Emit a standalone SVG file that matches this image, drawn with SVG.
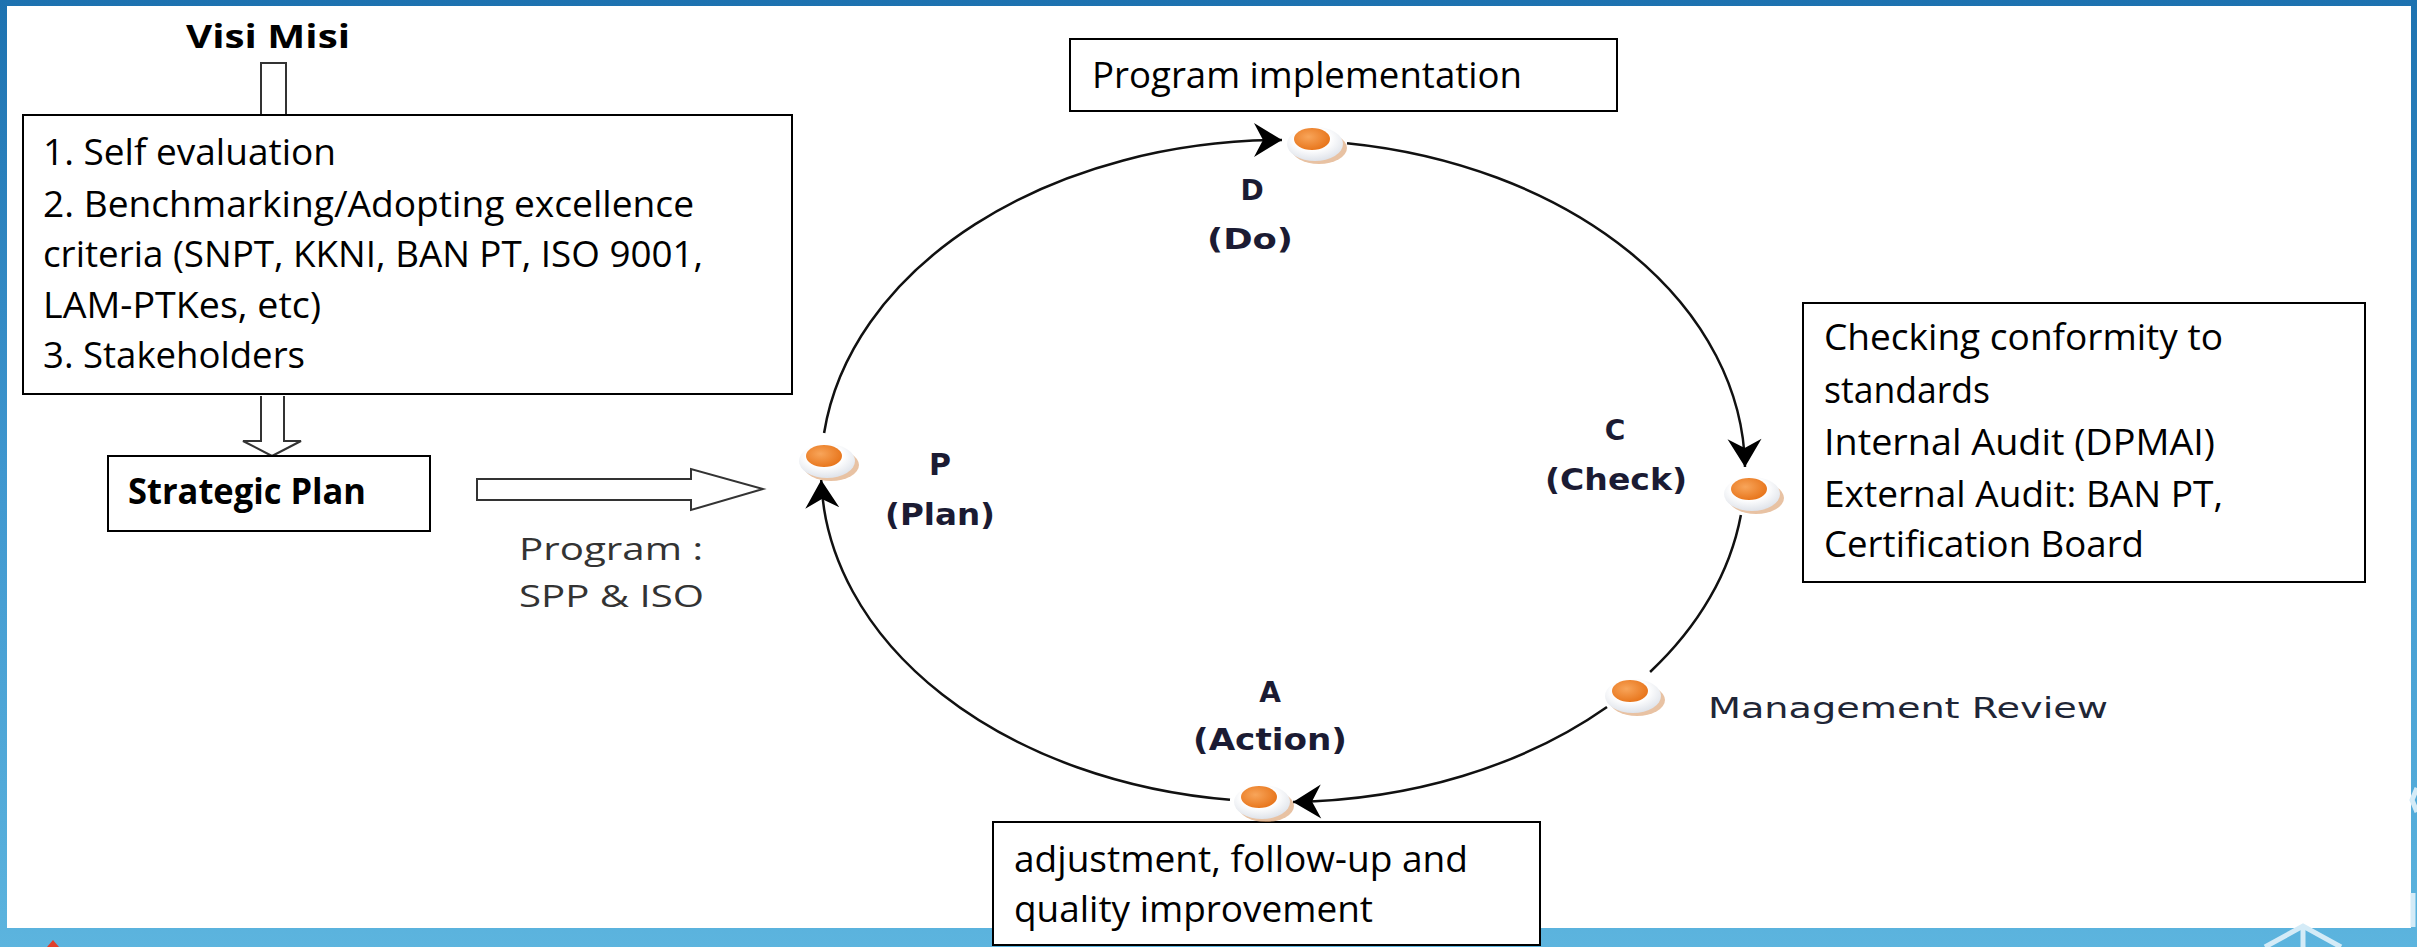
<svg xmlns="http://www.w3.org/2000/svg" width="2417" height="947" viewBox="0 0 2417 947">
<defs>
<style>
.box{fill:#fff;stroke:#000;stroke-width:2}
.t{font-family:'Open Sans','Liberation Sans',sans-serif;font-size:36px;fill:#000}
.tb{font-family:'Open Sans','Liberation Sans',sans-serif;font-size:36px;font-weight:bold;fill:#000}
.prog{font-family:'Open Sans','Liberation Sans',sans-serif;font-size:31px;fill:#333}
.lbl{font-family:'DejaVu Sans','Liberation Sans',sans-serif;font-weight:bold;font-size:30px;fill:#1b1b33;text-anchor:middle}
.mr{font-family:'DejaVu Sans','Liberation Sans',sans-serif;font-size:28px;fill:#1f2636}
.arc{fill:none;stroke:#111;stroke-width:2.5}
.hollow{fill:#fff;stroke:#333;stroke-width:2}
.flake{stroke:#d4ebf7;stroke-width:5;fill:none;stroke-linecap:butt}
</style>
<linearGradient id="bg" x1="0" y1="0" x2="0" y2="1">
<stop offset="0" stop-color="#1d72b0"/>
<stop offset="0.5" stop-color="#3f97cf"/>
<stop offset="1" stop-color="#5cb4de"/>
</linearGradient>
<radialGradient id="orng" cx="0.4" cy="0.4" r="0.6">
<stop offset="0" stop-color="#f8a55a"/>
<stop offset="1" stop-color="#e8771e"/>
</radialGradient>
<radialGradient id="btn" cx="0.45" cy="0.35" r="0.65">
<stop offset="0.5" stop-color="#ffffff"/>
<stop offset="1" stop-color="#dfe3ea"/>
</radialGradient>
<marker id="ah" markerUnits="userSpaceOnUse" markerWidth="40" markerHeight="40" viewBox="-30 -20 32 40" refX="0" refY="0" orient="auto">
<path d="M0,0 L-28,-17 L-19,0 L-28,17 Z" fill="#000"/>
</marker>
<g id="dot">
<ellipse cx="4" cy="4" rx="28" ry="16" fill="#d99a66" opacity="0.6"/>
<ellipse cx="0" cy="0" rx="28" ry="17" fill="url(#btn)"/>
<ellipse cx="-3" cy="-5" rx="18" ry="11" fill="url(#orng)"/>
</g>
</defs>

<rect x="0" y="0" width="2417" height="947" fill="url(#bg)"/>
<rect x="7" y="6" width="2404" height="922" fill="#fff"/>

<g id="decor">
<polyline class="flake" points="2265,947 2303,926 2341,947"/>
<line class="flake" x1="2303" y1="926" x2="2303" y2="947"/>
<polyline class="flake" points="2417,788 2412,800 2417,812"/>
<line class="flake" x1="2413" y1="893" x2="2413" y2="927"/>
<polygon points="47,947 53,940 59,947" fill="#e0402c"/>
</g>

<g id="connectors">
<path class="hollow" d="M261,118 V63 H286 V118"/>
<path class="hollow" d="M261,396 V441 H243 L272,456 L301,441 H284 V396"/>
<path class="hollow" d="M477,479 H691 V469 L763,489 L691,510 V500 H477 Z"/>
<path class="arc" d="M824.1,433 A462,331 0 0 1 1282,140" marker-end="url(#ah)"/>
<path class="arc" d="M1347,143.2 A462,331 0 0 1 1745,467" marker-end="url(#ah)"/>
<path class="arc" d="M1740.9,515 A462,331 0 0 1 1650.1,672"/>
<path class="arc" d="M1607,707 A462,331 0 0 1 1293,801.9" marker-end="url(#ah)"/>
<path class="arc" d="M1230,799.8 A462,331 0 0 1 821.2,480" marker-end="url(#ah)"/>
</g>

<g id="visi-misi">
<text class="tb" x="186" y="48" style="font-size:33px" textLength="164" lengthAdjust="spacingAndGlyphs" fill="#1c2333">Visi Misi</text>
</g>

<g id="criteria">
<rect class="box" x="23" y="115" width="769" height="279"/>
<text class="t" x="43" y="165" textLength="293" lengthAdjust="spacingAndGlyphs">1. Self evaluation</text>
<text class="t" x="43" y="217" textLength="651" lengthAdjust="spacingAndGlyphs">2. Benchmarking/Adopting excellence</text>
<text class="t" x="43" y="267" textLength="660" lengthAdjust="spacingAndGlyphs">criteria (SNPT, KKNI, BAN PT, ISO 9001,</text>
<text class="t" x="43" y="318" textLength="278" lengthAdjust="spacingAndGlyphs">LAM-PTKes, etc)</text>
<text class="t" x="43" y="368" textLength="262" lengthAdjust="spacingAndGlyphs">3. Stakeholders</text>
</g>

<g id="strategic-plan">
<rect class="box" x="108" y="456" width="322" height="75"/>
<text class="tb" x="128" y="504" textLength="238" lengthAdjust="spacingAndGlyphs">Strategic Plan</text>
</g>

<g id="program-label">
<text class="prog" x="519" y="560" textLength="184" lengthAdjust="spacingAndGlyphs">Program :</text>
<text class="prog" x="519" y="607" textLength="185" lengthAdjust="spacingAndGlyphs">SPP &amp; ISO</text>
</g>

<g id="program-implementation">
<rect class="box" x="1070" y="39" width="547" height="72"/>
<text class="t" x="1092" y="88" textLength="430" lengthAdjust="spacingAndGlyphs">Program implementation</text>
</g>

<g id="checking">
<rect class="box" x="1803" y="303" width="562" height="279"/>
<text class="t" x="1824" y="350" textLength="399" lengthAdjust="spacingAndGlyphs">Checking conformity to</text>
<text class="t" x="1824" y="403" textLength="166" lengthAdjust="spacingAndGlyphs">standards</text>
<text class="t" x="1824" y="455" textLength="391" lengthAdjust="spacingAndGlyphs">Internal Audit (DPMAI)</text>
<text class="t" x="1824" y="507" textLength="399" lengthAdjust="spacingAndGlyphs">External Audit: BAN PT,</text>
<text class="t" x="1824" y="557" textLength="320" lengthAdjust="spacingAndGlyphs">Certification Board</text>
</g>

<g id="adjustment">
<rect class="box" x="993" y="822" width="547" height="123"/>
<text class="t" x="1014" y="872" textLength="454" lengthAdjust="spacingAndGlyphs">adjustment, follow-up and</text>
<text class="t" x="1014" y="922" textLength="359" lengthAdjust="spacingAndGlyphs">quality improvement</text>
</g>

<g id="node-P">
<use href="#dot" x="827" y="461"/>
<text class="lbl" x="940" y="475">P</text>
<text class="lbl" x="940" y="525" textLength="110" lengthAdjust="spacingAndGlyphs">(Plan)</text>
</g>

<g id="node-D">
<use href="#dot" x="1315" y="144"/>
<text class="lbl" x="1252" y="200" style="font-size:28px">D</text>
<text class="lbl" x="1250" y="249" style="font-size:28px" textLength="86" lengthAdjust="spacingAndGlyphs">(Do)</text>
</g>

<g id="node-C">
<use href="#dot" x="1752" y="494"/>
<text class="lbl" x="1615" y="440" style="font-size:28px">C</text>
<text class="lbl" x="1616" y="490" textLength="142" lengthAdjust="spacingAndGlyphs">(Check)</text>
</g>

<g id="node-M">
<use href="#dot" x="1633" y="696"/>
<text class="mr" x="1708" y="718" textLength="400" lengthAdjust="spacingAndGlyphs">Management Review</text>
</g>

<g id="node-A">
<use href="#dot" x="1262" y="802"/>
<text class="lbl" x="1270" y="702" style="font-size:28px">A</text>
<text class="lbl" x="1270" y="750" textLength="154" lengthAdjust="spacingAndGlyphs">(Action)</text>
</g>
</svg>
